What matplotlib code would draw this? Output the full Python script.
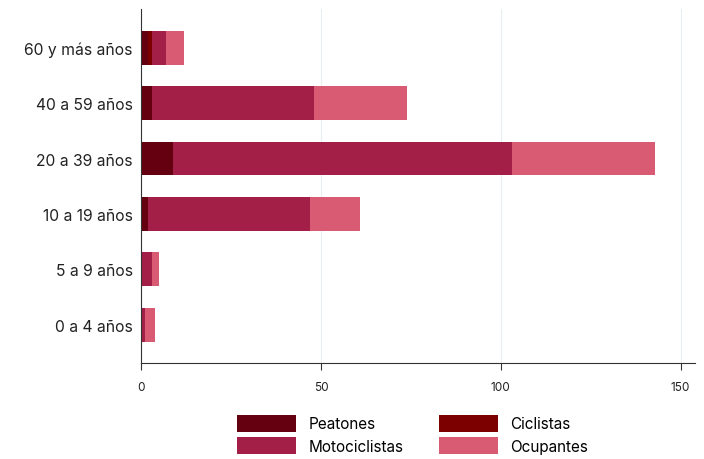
import numpy as np
import matplotlib.pyplot as plt

plt.rcParams['font.family'] = ['Inter', 'DejaVu Sans']

grupos = ["0 a 4 años", "5 a 9 años", "10 a 19 años", "20 a 39 años", "40 a 59 años", "60 y más años"]
peatones = [0, 0, 2, 9, 3, 2]
ciclistas = [0, 0, 0, 0, 0, 1]
motociclistas = [1, 3, 45, 94, 45, 4]
ocupantes = [3, 2, 14, 40, 26, 5]

series = [
    ("Peatones", peatones, "#650010"),
    ("Ciclistas", ciclistas, "#7c0000"),
    ("Motociclistas", motociclistas, "#a31f47"),
    ("Ocupantes", ocupantes, "#d95a73"),
]

fig = plt.figure(figsize=(7.04, 4.6), dpi=100)
ax = fig.add_axes([0.2003, 0.2087, 0.787, 0.7696])

y = np.arange(len(grupos))
left = np.zeros(len(grupos))
barras = {}
for nombre, vals, color in series:
    barras[nombre] = ax.barh(y, vals, left=left, height=0.61, color=color, label=nombre)
    left += np.array(vals)

ax.set_yticks(y)
ax.set_yticklabels(grupos, fontsize=11.3, color="#222222")
ax.tick_params(axis="y", length=0, pad=6)
ax.set_xlim(0, 154)
ax.set_ylim(-0.69, len(grupos) - 0.3)
ax.set_xticks([0, 50, 100, 150])
ax.tick_params(axis="x", labelsize=8.5, length=5, color="#333333", labelcolor="#222222", pad=8)
ax.grid(axis="x", color="#e6eef2", linewidth=0.8)
ax.set_axisbelow(True)
for s in ["top", "right"]:
    ax.spines[s].set_visible(False)
ax.spines["left"].set_color("#333333")
ax.spines["bottom"].set_color("#333333")

# orden por filas: Peatones, Ciclistas / Motociclistas, Ocupantes
orden = ["Peatones", "Motociclistas", "Ciclistas", "Ocupantes"]
fig.legend([barras[n] for n in orden], orden, loc="lower center",
           bbox_to_anchor=(0.586, -0.02), ncol=2, frameon=False,
           fontsize=11, handlelength=3.9, handleheight=1.4, columnspacing=2.3,
           labelspacing=0.3, handletextpad=0.8)

plt.savefig("out.png", dpi=100)
